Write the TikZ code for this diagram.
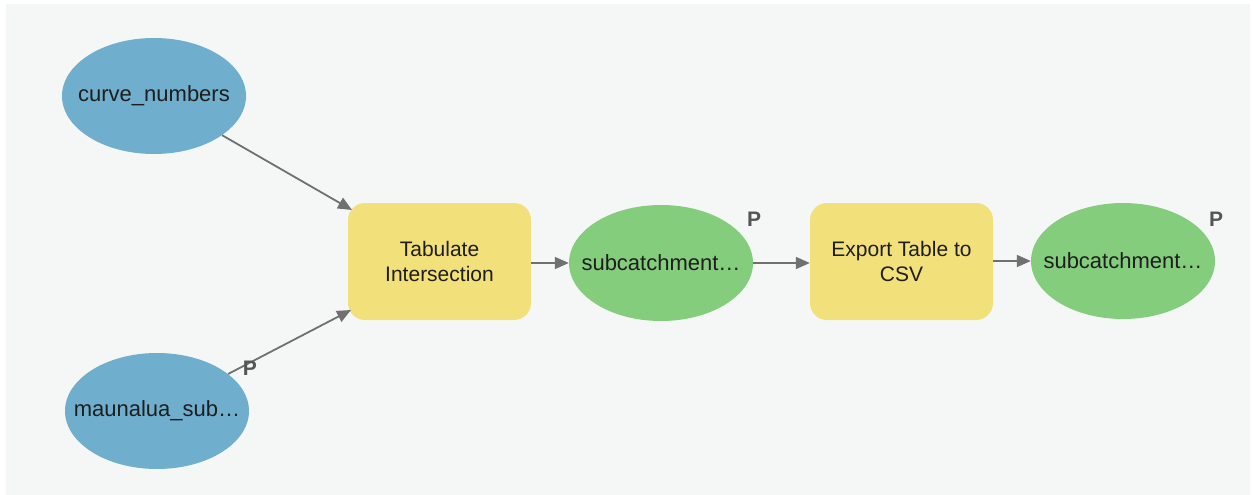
\documentclass[tikz,border=0pt]{standalone}
\usepackage{fontspec}
\setmainfont{Liberation Sans}
\usetikzlibrary{shapes.geometric,arrows.meta,calc}
\definecolor{bgpanel}{HTML}{F5F7F7}
\definecolor{blueel}{HTML}{70AECD}
\definecolor{greenel}{HTML}{84CD7D}
\definecolor{yellowbox}{HTML}{F2E07A}
\definecolor{linegray}{HTML}{707070}
\definecolor{txt}{HTML}{1E1E1E}
\definecolor{plabel}{HTML}{555555}
\tikzset{
  dataset/.style={ellipse, minimum width=184pt, minimum height=116pt, inner sep=0pt, text=txt, font=\fontsize{22}{26}\selectfont},
  inputds/.style={dataset, fill=blueel},
  outputds/.style={dataset, fill=greenel},
  toolbox/.style={rectangle, rounded corners=17pt, fill=yellowbox, minimum width=183pt, minimum height=117pt, inner sep=0pt, align=center, text=txt, font=\fontsize{21}{25}\selectfont},
  conn/.style={draw=linegray, line width=1.8pt, -{Triangle[length=14pt,width=12pt]}},
  plab/.style={text=plabel, font=\fontsize{21}{25}\selectfont\bfseries, inner sep=0pt}
}
\begin{document}
\begin{tikzpicture}[x=1pt,y=-1pt]
\useasboundingbox (0,0) rectangle (1253,495);
\fill[white] (0,0) rectangle (1253,495);
\fill[bgpanel] (6,4) rectangle (1250,495);

\node[inputds] (cn) at (154,96) {\makebox[0pt]{curve\_numbers}};
\node[inputds] (ms) at (157,411) {\makebox[0pt]{maunalua\_sub…}};
\node[toolbox] (tab) at (439.5,261.5) {Tabulate\\Intersection};
\node[outputds] (sc1) at (661,263) {\makebox[0pt]{subcatchment…}};
\node[toolbox] (exp) at (901.5,261.5) {Export Table to\\CSV};
\node[outputds] (sc2) at (1123,261) {\makebox[0pt]{subcatchment…}};

\coordinate (tabin1) at (352,210);
\coordinate (tabin2) at (351,310);

\draw[conn] (cn) -- (tabin1);
\draw[conn] (ms) -- (tabin2);
\draw[conn] (tab.east |- sc1.west) -- (sc1.west);
\draw[conn] (sc1.east) -- (exp.west |- sc1.east);
\draw[conn] (exp.east |- sc2.west) -- (sc2.west);

\node[plab] (p1) at (250,368) {P};
\node[plab] (p2) at (754,219) {P};
\node[plab] (p3) at (1216,219) {P};
\end{tikzpicture}
\end{document}
